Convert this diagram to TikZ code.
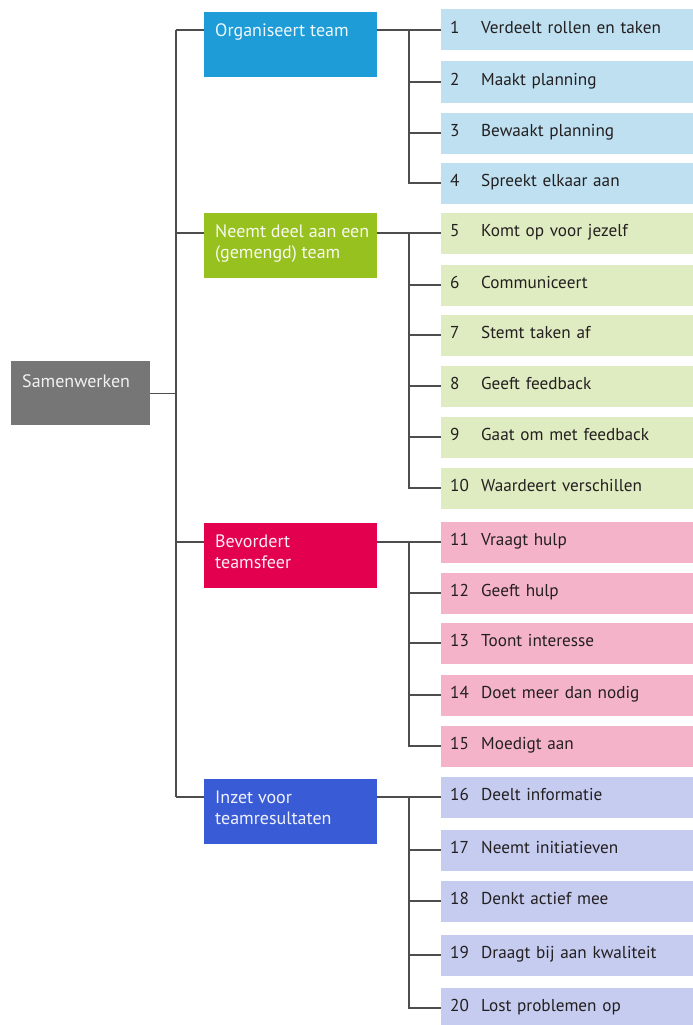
\documentclass[tikz,border=0pt]{standalone}
\usepackage{fontspec}
\setmainfont{PT Sans}
\usetikzlibrary{positioning}

\definecolor{lijn}{HTML}{4D4D4D}
\definecolor{grijs}{HTML}{767676}
\definecolor{blauw}{HTML}{1E9CD7}
\definecolor{groen}{HTML}{97C11F}
\definecolor{rood}{HTML}{E2004F}
\definecolor{indigo}{HTML}{3A5BD6}
\definecolor{lblauw}{HTML}{BEE0F1}
\definecolor{lgroen}{HTML}{DFEBC0}
\definecolor{roze}{HTML}{F5B3CA}
\definecolor{lindigo}{HTML}{C5CCF0}
\definecolor{tekst}{HTML}{231F20}

\newcommand{\nr}[1]{\makebox[31pt][l]{#1}}

\begin{document}
\begin{tikzpicture}[x=1pt,y=-1pt,
  lijnstuk/.style={color=lijn,line width=1.4pt},
  hoofd/.style={minimum width=173pt,minimum height=65pt,inner sep=0pt,anchor=north west},
  hoofdtekst/.style={anchor=north west,align=left,inner sep=0pt,font=\fontsize{18}{21}\selectfont},
  item/.style={anchor=west,minimum height=41pt,inner xsep=9pt,inner ysep=0pt,text width=234pt,
    align=left,text=tekst,font=\fontsize{17.2}{19}\selectfont,execute at begin node=\strut}]
\useasboundingbox (0,0) rectangle (693,1025);
\clip (0,0) rectangle (693,1025);

% hoofdstam
\coordinate (stam) at (176,0);
\coordinate (tak) at (409,0);

\node[hoofd,fill=grijs,minimum width=139pt,minimum height=64pt] (wortel) at (11,361) {};
\node[hoofdtekst,text=white!90!grijs] (wortelt) at ([xshift=11pt,yshift=-12pt]wortel.north west) {\strut Samenwerken};

% categorieen
\node[hoofd,fill=blauw] (c1) at (204,12) {};
\node[hoofd,fill=groen] (c2) at (204,213) {};
\node[hoofd,fill=rood] (c3) at (204,523) {};
\node[hoofd,fill=indigo] (c4) at (204,779) {};
\node[hoofdtekst,text=white!92!blauw] (c1t) at ([xshift=11pt,yshift=-10pt]c1.north west) {\strut Organiseert team};
\node[hoofdtekst,text=white!92!groen] (c2t) at ([xshift=11pt,yshift=-10pt]c2.north west) {\strut Neemt deel aan een\\(gemengd) team};
\node[hoofdtekst,text=white!92!rood] (c3t) at ([xshift=11pt,yshift=-10pt]c3.north west) {\strut Bevordert\\teamsfeer};
\node[hoofdtekst,text=white!92!indigo] (c4t) at ([xshift=11pt,yshift=-10pt]c4.north west) {\strut Inzet voor\\teamresultaten};

% items
\node[item,fill=lblauw] (i1) at (441,30) {\nr{1}Verdeelt rollen en taken};
\node[item,fill=lblauw] (i2) at (441,82) {\nr{2}Maakt planning};
\node[item,fill=lblauw] (i3) at (441,133) {\nr{3}Bewaakt planning};
\node[item,fill=lblauw] (i4) at (441,183) {\nr{4}Spreekt elkaar aan};
\node[item,fill=lgroen] (i5) at (441,233) {\nr{5}Komt op voor jezelf};
\node[item,fill=lgroen] (i6) at (441,285) {\nr{6}Communiceert};
\node[item,fill=lgroen] (i7) at (441,335) {\nr{7}Stemt taken af};
\node[item,fill=lgroen] (i8) at (441,386) {\nr{8}Geeft feedback};
\node[item,fill=lgroen] (i9) at (441,437) {\nr{9}Gaat om met feedback};
\node[item,fill=lgroen] (i10) at (441,488) {\nr{10}Waardeert verschillen};
\node[item,fill=roze] (i11) at (441,542) {\nr{11}Vraagt hulp};
\node[item,fill=roze] (i12) at (441,593) {\nr{12}Geeft hulp};
\node[item,fill=roze] (i13) at (441,643) {\nr{13}Toont interesse};
\node[item,fill=roze] (i14) at (441,695) {\nr{14}Doet meer dan nodig};
\node[item,fill=roze] (i15) at (441,746) {\nr{15}Moedigt aan};
\node[item,fill=lindigo] (i16) at (441,797) {\nr{16}Deelt informatie};
\node[item,fill=lindigo] (i17) at (441,850) {\nr{17}Neemt initiatieven};
\node[item,fill=lindigo] (i18) at (441,901) {\nr{18}Denkt actief mee};
\node[item,fill=lindigo] (i19) at (441,955) {\nr{19}Draagt bij aan kwaliteit};
\node[item,fill=lindigo] (i20) at (441,1008) {\nr{20}Lost problemen op};

% verbindingen
\draw[lijnstuk] (wortel.east) -- (stam |- wortel.east);
\draw[lijnstuk] (stam |- i1.west) -- (stam |- i16.west);
\draw[lijnstuk] (stam |- i1.west) -- (c1.west |- i1.west);
\draw[lijnstuk] (stam |- i5.west) -- (c2.west |- i5.west);
\draw[lijnstuk] (stam |- i11.west) -- (c3.west |- i11.west);
\draw[lijnstuk] (stam |- i16.west) -- (c4.west |- i16.west);

\draw[lijnstuk] (c1.east |- i1.west) -- (i1.west);
\draw[lijnstuk] (tak |- i1.west) -- (tak |- i4.west) -- (i4.west);
\draw[lijnstuk] (tak |- i2.west) -- (i2.west);
\draw[lijnstuk] (tak |- i3.west) -- (i3.west);

\draw[lijnstuk] (c2.east |- i5.west) -- (i5.west);
\draw[lijnstuk] (tak |- i5.west) -- (tak |- i10.west) -- (i10.west);
\draw[lijnstuk] (tak |- i6.west) -- (i6.west);
\draw[lijnstuk] (tak |- i7.west) -- (i7.west);
\draw[lijnstuk] (tak |- i8.west) -- (i8.west);
\draw[lijnstuk] (tak |- i9.west) -- (i9.west);

\draw[lijnstuk] (c3.east |- i11.west) -- (i11.west);
\draw[lijnstuk] (tak |- i11.west) -- (tak |- i15.west) -- (i15.west);
\draw[lijnstuk] (tak |- i12.west) -- (i12.west);
\draw[lijnstuk] (tak |- i13.west) -- (i13.west);
\draw[lijnstuk] (tak |- i14.west) -- (i14.west);

\draw[lijnstuk] (c4.east |- i16.west) -- (i16.west);
\draw[lijnstuk] (tak |- i16.west) -- (tak |- i20.west) -- (i20.west);
\draw[lijnstuk] (tak |- i17.west) -- (i17.west);
\draw[lijnstuk] (tak |- i18.west) -- (i18.west);
\draw[lijnstuk] (tak |- i19.west) -- (i19.west);

\end{tikzpicture}
\end{document}
